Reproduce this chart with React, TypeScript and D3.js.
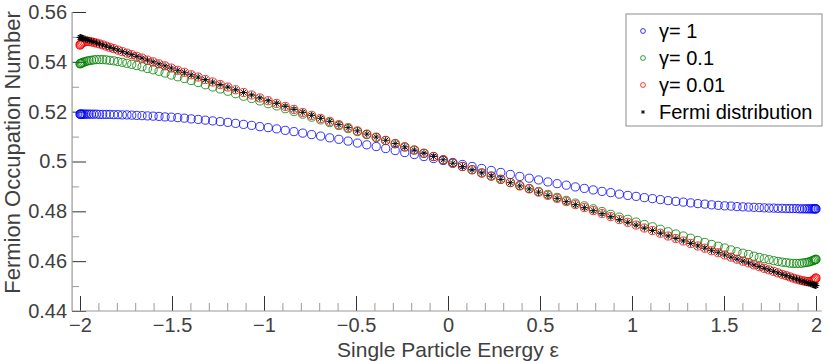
import React, { useEffect, useRef } from 'react';
import * as d3 from 'd3';

// single particle energies (Chebyshev-like grid, dense at the ends)
const energies = [
  -1.9998, -1.9985, -1.9957, -1.9916, -1.9861, -1.9793, -1.9711, -1.9616, -1.9507, -1.9385,
  -1.9249, -1.9100, -1.8939, -1.8764, -1.8576, -1.8376, -1.8163, -1.7937, -1.7700, -1.7450,
  -1.7188, -1.6915, -1.6629, -1.6333, -1.6025, -1.5706, -1.5377, -1.5037, -1.4686, -1.4326,
  -1.3956, -1.3576, -1.3187, -1.2789, -1.2382, -1.1966, -1.1543, -1.1111, -1.0672, -1.0226,
  -0.9772, -0.9312, -0.8846, -0.8373, -0.7895, -0.7411, -0.6922, -0.6429, -0.5931, -0.5429,
  -0.4923, -0.4414, -0.3902, -0.3387, -0.2870, -0.2351, -0.1830, -0.1308, -0.0785, -0.0262,
  0.0262, 0.0785, 0.1308, 0.1830, 0.2351, 0.2870, 0.3387, 0.3902, 0.4414, 0.4923,
  0.5429, 0.5931, 0.6429, 0.6922, 0.7411, 0.7895, 0.8373, 0.8846, 0.9312, 0.9772,
  1.0226, 1.0672, 1.1111, 1.1543, 1.1966, 1.2382, 1.2789, 1.3187, 1.3576, 1.3956,
  1.4326, 1.4686, 1.5037, 1.5377, 1.5706, 1.6025, 1.6333, 1.6629, 1.6915, 1.7188,
  1.7450, 1.7700, 1.7937, 1.8163, 1.8376, 1.8576, 1.8764, 1.8939, 1.9100, 1.9249,
  1.9385, 1.9507, 1.9616, 1.9711, 1.9793, 1.9861, 1.9916, 1.9957, 1.9985, 1.9998,
];

// gamma = 1
const gamma1 = [
  0.5190, 0.5190, 0.5190, 0.5190, 0.5190, 0.5190, 0.5190, 0.5190, 0.5190, 0.5190,
  0.5190, 0.5190, 0.5189, 0.5189, 0.5189, 0.5189, 0.5188, 0.5188, 0.5187, 0.5187,
  0.5186, 0.5185, 0.5184, 0.5183, 0.5182, 0.5181, 0.5179, 0.5178, 0.5176, 0.5174,
  0.5171, 0.5169, 0.5166, 0.5163, 0.5160, 0.5157, 0.5153, 0.5149, 0.5145, 0.5140,
  0.5136, 0.5131, 0.5125, 0.5120, 0.5114, 0.5108, 0.5102, 0.5095, 0.5089, 0.5082,
  0.5074, 0.5067, 0.5060, 0.5052, 0.5044, 0.5036, 0.5028, 0.5020, 0.5012, 0.5004,
  0.4996, 0.4988, 0.4980, 0.4972, 0.4964, 0.4956, 0.4948, 0.4940, 0.4933, 0.4926,
  0.4918, 0.4911, 0.4905, 0.4898, 0.4892, 0.4886, 0.4880, 0.4875, 0.4869, 0.4864,
  0.4860, 0.4855, 0.4851, 0.4847, 0.4843, 0.4840, 0.4837, 0.4834, 0.4831, 0.4829,
  0.4826, 0.4824, 0.4822, 0.4821, 0.4819, 0.4818, 0.4817, 0.4816, 0.4815, 0.4814,
  0.4813, 0.4813, 0.4812, 0.4812, 0.4811, 0.4811, 0.4811, 0.4811, 0.4810, 0.4810,
  0.4810, 0.4810, 0.4810, 0.4810, 0.4810, 0.4810, 0.4810, 0.4810, 0.4810, 0.4810,
];

// gamma = 0.1
const gamma01 = [
  0.5392, 0.5393, 0.5394, 0.5395, 0.5397, 0.5399, 0.5401, 0.5403, 0.5405, 0.5406,
  0.5408, 0.5409, 0.5409, 0.5409, 0.5408, 0.5406, 0.5404, 0.5401, 0.5398, 0.5394,
  0.5390, 0.5385, 0.5380, 0.5373, 0.5368, 0.5362, 0.5355, 0.5347, 0.5340, 0.5333,
  0.5325, 0.5317, 0.5308, 0.5299, 0.5291, 0.5282, 0.5272, 0.5262, 0.5253, 0.5243,
  0.5232, 0.5223, 0.5212, 0.5201, 0.5190, 0.5178, 0.5167, 0.5156, 0.5144, 0.5132,
  0.5120, 0.5108, 0.5096, 0.5084, 0.5071, 0.5058, 0.5046, 0.5033, 0.5020, 0.5007,
  0.4993, 0.4980, 0.4967, 0.4954, 0.4942, 0.4929, 0.4916, 0.4904, 0.4892, 0.4880,
  0.4868, 0.4856, 0.4844, 0.4833, 0.4822, 0.4810, 0.4799, 0.4788, 0.4777, 0.4768,
  0.4757, 0.4747, 0.4738, 0.4728, 0.4718, 0.4709, 0.4701, 0.4692, 0.4683, 0.4675,
  0.4667, 0.4660, 0.4653, 0.4645, 0.4638, 0.4632, 0.4627, 0.4620, 0.4615, 0.4610,
  0.4606, 0.4602, 0.4599, 0.4596, 0.4594, 0.4592, 0.4591, 0.4591, 0.4591, 0.4592,
  0.4594, 0.4595, 0.4597, 0.4599, 0.4601, 0.4603, 0.4605, 0.4606, 0.4607, 0.4608,
];

// gamma = 0.01
const gamma001 = [
  0.5467, 0.5469, 0.5471, 0.5474, 0.5477, 0.5480, 0.5481, 0.5482, 0.5482, 0.5480,
  0.5478, 0.5475, 0.5472, 0.5468, 0.5463, 0.5458, 0.5453, 0.5447, 0.5441, 0.5435,
  0.5429, 0.5422, 0.5415, 0.5407, 0.5400, 0.5392, 0.5384, 0.5375, 0.5366, 0.5358,
  0.5348, 0.5339, 0.5329, 0.5319, 0.5309, 0.5299, 0.5288, 0.5277, 0.5267, 0.5255,
  0.5244, 0.5233, 0.5221, 0.5209, 0.5197, 0.5185, 0.5173, 0.5161, 0.5148, 0.5136,
  0.5123, 0.5110, 0.5098, 0.5085, 0.5072, 0.5059, 0.5046, 0.5033, 0.5020, 0.5007,
  0.4993, 0.4980, 0.4967, 0.4954, 0.4941, 0.4928, 0.4915, 0.4902, 0.4890, 0.4877,
  0.4864, 0.4852, 0.4839, 0.4827, 0.4815, 0.4803, 0.4791, 0.4779, 0.4767, 0.4756,
  0.4745, 0.4733, 0.4723, 0.4712, 0.4701, 0.4691, 0.4681, 0.4671, 0.4661, 0.4652,
  0.4642, 0.4634, 0.4625, 0.4616, 0.4608, 0.4600, 0.4593, 0.4585, 0.4578, 0.4571,
  0.4565, 0.4559, 0.4553, 0.4547, 0.4542, 0.4537, 0.4532, 0.4528, 0.4525, 0.4522,
  0.4520, 0.4518, 0.4518, 0.4519, 0.4520, 0.4523, 0.4526, 0.4529, 0.4531, 0.4533,
];

// Fermi distribution
const fermi = [
  0.5498, 0.5498, 0.5497, 0.5496, 0.5495, 0.5493, 0.5491, 0.5489, 0.5486, 0.5483,
  0.5480, 0.5476, 0.5472, 0.5468, 0.5463, 0.5458, 0.5453, 0.5447, 0.5441, 0.5435,
  0.5429, 0.5422, 0.5415, 0.5407, 0.5400, 0.5392, 0.5384, 0.5375, 0.5366, 0.5358,
  0.5348, 0.5339, 0.5329, 0.5319, 0.5309, 0.5299, 0.5288, 0.5277, 0.5267, 0.5255,
  0.5244, 0.5233, 0.5221, 0.5209, 0.5197, 0.5185, 0.5173, 0.5161, 0.5148, 0.5136,
  0.5123, 0.5110, 0.5098, 0.5085, 0.5072, 0.5059, 0.5046, 0.5033, 0.5020, 0.5007,
  0.4993, 0.4980, 0.4967, 0.4954, 0.4941, 0.4928, 0.4915, 0.4902, 0.4890, 0.4877,
  0.4864, 0.4852, 0.4839, 0.4827, 0.4815, 0.4803, 0.4791, 0.4779, 0.4767, 0.4756,
  0.4745, 0.4733, 0.4723, 0.4712, 0.4701, 0.4691, 0.4681, 0.4671, 0.4661, 0.4652,
  0.4642, 0.4634, 0.4625, 0.4616, 0.4608, 0.4600, 0.4593, 0.4585, 0.4578, 0.4571,
  0.4565, 0.4559, 0.4553, 0.4547, 0.4542, 0.4537, 0.4532, 0.4528, 0.4524, 0.4520,
  0.4517, 0.4514, 0.4511, 0.4509, 0.4507, 0.4505, 0.4504, 0.4503, 0.4502, 0.4502,
];

const xMajorTicks = [-2, -1.5, -1, -0.5, 0, 0.5, 1, 1.5, 2];
const xMajorLabels = ['\u22122', '\u22121.5', '\u22121', '\u22120.5', '0', '0.5', '1', '1.5', '2'];
const xMinorTicks = [-1.9, -1.8, -1.7, -1.6, -1.4, -1.3, -1.2, -1.1, -0.9, -0.8, -0.7, -0.6,
  -0.4, -0.3, -0.2, -0.1, 0.1, 0.2, 0.3, 0.4, 0.6, 0.7, 0.8, 0.9, 1.1, 1.2, 1.3, 1.4,
  1.6, 1.7, 1.8, 1.9];
const yMajorTicks = [0.44, 0.46, 0.48, 0.5, 0.52, 0.54, 0.56];
const yMajorLabels = ['0.44', '0.46', '0.48', '0.5', '0.52', '0.54', '0.56'];
const yMinorTicks = [0.45, 0.47, 0.49, 0.51, 0.53, 0.55];

const seriesNames = ['\u03b3= 1', '\u03b3= 0.1', '\u03b3= 0.01', 'Fermi distribution'];
const seriesColors = ['#0000ff', '#008000', '#ff0000', '#000000'];

const FONT = '"Liberation Sans", Arial, Helvetica, sans-serif';
const starPath = (s) => `M${-s},0H${s}M0,${-s}V${s}M${-s * 0.7},${-s * 0.7}L${s * 0.7},${s * 0.7}M${-s * 0.7},${s * 0.7}L${s * 0.7},${-s * 0.7}`;

const App = () => {
  const ref = useRef<SVGSVGElement>(null);

  useEffect(() => {
    const svg = d3.select(ref.current);
    svg.selectAll('*').remove();

    const width = 830;
    const height = 361;
    const x = d3.scaleLinear().domain([-2, 2]).range([80, 816]);
    const y = d3.scaleLinear().domain([0.44, 0.56]).range([311, 12]);
    const xLo = -2.043;
    const xHi = 2.031;

    svg.append('rect').attr('width', width).attr('height', height).attr('fill', '#fff');

    // minor ticks
    svg.append('g')
      .attr('transform', `translate(0,${y(0.44)})`)
      .call(d3.axisBottom(x).tickValues(xMinorTicks).tickSize(-8).tickFormat(() => ''))
      .call(g => g.select('.domain').remove())
      .call(g => g.selectAll('line').attr('stroke', '#9a9a9a'));
    svg.append('g')
      .attr('transform', `translate(${x(xLo)},0)`)
      .call(d3.axisLeft(y).tickValues(yMinorTicks).tickSize(-7).tickFormat(() => ''))
      .call(g => g.select('.domain').remove())
      .call(g => g.selectAll('line').attr('stroke', '#9a9a9a'));

    // major ticks + labels
    svg.append('g')
      .attr('transform', `translate(0,${y(0.44)})`)
      .call(d3.axisBottom(x).tickValues(xMajorTicks).tickSize(-15).tickPadding(7)
        .tickFormat((d, i) => xMajorLabels[i]))
      .call(g => g.select('.domain').remove())
      .call(g => g.selectAll('line').attr('stroke', '#333'))
      .call(g => g.selectAll('text').attr('fill', '#404040').attr('font-size', 20).attr('font-family', FONT));
    svg.append('g')
      .attr('transform', `translate(${x(xLo)},0)`)
      .call(d3.axisLeft(y).tickValues(yMajorTicks).tickSize(-14).tickPadding(5)
        .tickFormat((d, i) => yMajorLabels[i]))
      .call(g => g.select('.domain').remove())
      .call(g => g.selectAll('line').attr('stroke', '#333'))
      .call(g => g.selectAll('text').attr('fill', '#404040').attr('font-size', 20).attr('font-family', FONT));

    // spines
    svg.append('line')
      .attr('x1', x(xLo)).attr('x2', x(xHi))
      .attr('y1', y(0.44)).attr('y2', y(0.44))
      .attr('stroke', '#9a9a9a').attr('stroke-width', 1.2);
    svg.append('line')
      .attr('x1', x(xLo)).attr('x2', x(xLo))
      .attr('y1', y(0.44)).attr('y2', y(0.56))
      .attr('stroke', '#9a9a9a').attr('stroke-width', 1.2);

    // data
    const circleSeries = [gamma1, gamma01, gamma001];
    circleSeries.forEach((vals, k) => {
      svg.append('g')
        .selectAll('circle')
        .data(d3.zip(energies, vals))
        .enter().append('circle')
        .attr('cx', d => x(d[0]))
        .attr('cy', d => y(d[1]))
        .attr('r', 4.1)
        .attr('fill', 'none')
        .attr('stroke', seriesColors[k])
        .attr('stroke-width', 0.8);
    });
    svg.append('g')
      .selectAll('path')
      .data(d3.zip(energies, fermi))
      .enter().append('path')
      .attr('transform', d => `translate(${x(d[0])},${y(d[1])})`)
      .attr('d', starPath(3.4))
      .attr('fill', 'none')
      .attr('stroke', '#000')
      .attr('stroke-width', 0.9);

    // axis labels
    svg.append('text')
      .attr('x', x(0)).attr('y', 356.5)
      .attr('text-anchor', 'middle')
      .attr('font-family', FONT).attr('font-size', 21).attr('fill', '#404040')
      .text('Single Particle Energy \u03b5');
    svg.append('text')
      .attr('transform', `translate(20,${y(0.5) - 9}) rotate(-90)`)
      .attr('text-anchor', 'middle')
      .attr('font-family', FONT).attr('font-size', 22).attr('fill', '#404040')
      .text('Fermion Occupation Number');

    // legend
    const lg = svg.append('g').attr('transform', 'translate(626,14)');
    lg.append('rect')
      .attr('width', 196).attr('height', 112)
      .attr('fill', '#fff').attr('stroke', '#8c8c8c').attr('stroke-width', 1);
    seriesNames.forEach((name, i) => {
      const row = lg.append('g').attr('transform', `translate(0,${17 + i * 27})`);
      if (i < 3) {
        row.append('circle').attr('cx', 17).attr('cy', 0).attr('r', 2.4)
          .attr('fill', 'none').attr('stroke', seriesColors[i]).attr('stroke-width', 0.8);
      } else {
        row.append('path').attr('transform', 'translate(17,0)').attr('d', starPath(2))
          .attr('fill', 'none').attr('stroke', '#000').attr('stroke-width', 0.8);
      }
      row.append('text')
        .attr('x', 33).attr('y', 7)
        .attr('font-family', FONT).attr('font-size', 20).attr('fill', '#000')
        .text(name);
    });
  }, []);

  return (
    <svg ref={ref} width="830" height="361" style={{ position: 'absolute', left: 0, top: 0 }}></svg>
  );
};

export default App;
